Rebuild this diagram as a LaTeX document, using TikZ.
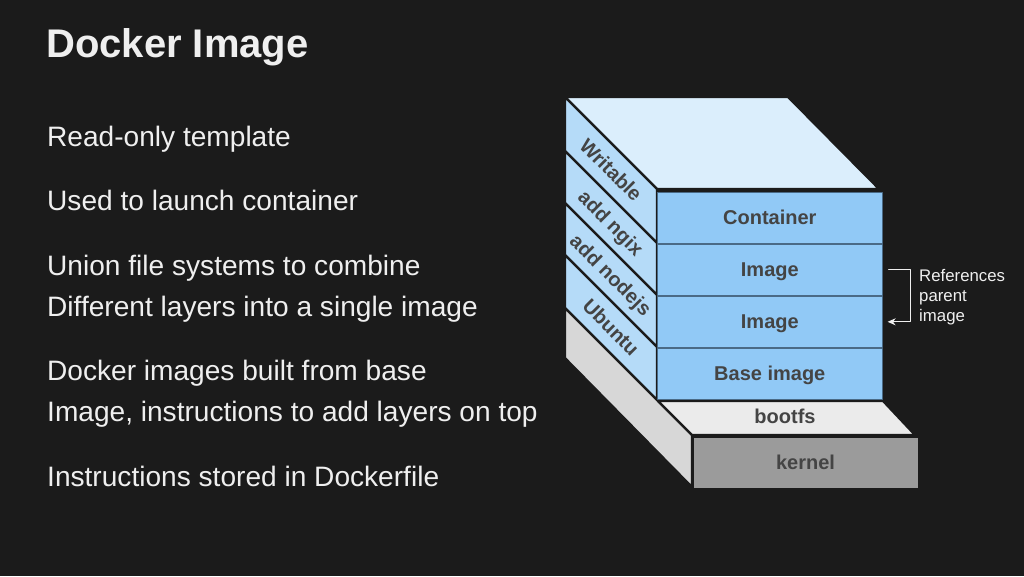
\documentclass[tikz,border=0pt]{standalone}
\usepackage{fontspec}
\setmainfont{Liberation Sans}
\usetikzlibrary{arrows.meta}
\definecolor{bgdark}{HTML}{1B1B1B}
\definecolor{txtwhite}{HTML}{EFEFEF}
\definecolor{labelgray}{HTML}{444444}
\definecolor{topblue}{HTML}{DBEEFC}
\definecolor{sideblue}{HTML}{B5DBF8}
\definecolor{frontblue}{HTML}{91C9F6}
\definecolor{edgeblue}{HTML}{4A6A86}
\definecolor{sidegray}{HTML}{D7D7D7}
\definecolor{bootgray}{HTML}{EBEBEB}
\definecolor{kernelgray}{HTML}{9B9B9B}
\begin{document}
\begin{tikzpicture}[line join=round,line cap=round,x=1pt,y=-1pt]
	\tikzset{
		slide/.style={text=txtwhite,inner sep=0pt,anchor=base west,font=\fontsize{28.1}{34}\selectfont},
		layer/.style={fill=frontblue,draw=edgeblue,line width=.6pt,minimum width=225pt,minimum height=51pt,inner sep=0pt,anchor=north west,text=labelgray,font=\bfseries\fontsize{20}{24}\selectfont,text height=14pt,text depth=0pt},
		side/.style={text=labelgray,font=\bfseries\fontsize{20}{24}\selectfont,rotate=-45,inner sep=0pt,text height=14pt,text depth=0pt},
		gap/.style={draw=bgdark,line width=2.2pt}
	}
	\fill[bgdark] (0,0) rectangle (1024,576);
	\node[slide,font=\bfseries\fontsize{40}{48}\selectfont] (title) at (46,57.5) {Docker Image};
	\foreach \y/\txt [count=\i] in {146/Read-only template,210/Used to launch container,275/Union file systems to combine,316.7/Different layers into a single image,380.7/Docker images built from base,421.7/{Image, instructions to add layers on top},486.7/Instructions stored in Dockerfile}{
		\node[slide] (line\i) at (47,\y) {\txt};
	}
	\draw[gap,fill=topblue] (565,97) -- (788,97) -- (879,189) -- (657,189) -- cycle;
	\foreach \y/\h/\txt [count=\i] in {97/54/Writable,151/52/add ngix,203/52/add nodejs,255/53/Ubuntu}{
		\draw[gap,fill=sideblue] (565,\y) -- (657,\y+92) -- (657,\y+\h+92) -- (565,\y+\h) -- cycle;
		\node[side] (side\i) at (611,\y+\h/2+46) {\txt};
	}
	\draw[gap,fill=sidegray] (565,308) -- (692,435) -- (692,487) -- (565,358) -- cycle;
	\draw[gap,fill=bootgray] (658,401) -- (883,401) -- (915,435) -- (692,435) -- cycle;
	\node[text=labelgray,font=\bfseries\fontsize{20}{24}\selectfont,inner sep=0pt,text height=14pt,text depth=0pt] (bootfs) at (785,416) {bootfs};
	\node[fill=kernelgray,draw=bgdark,line width=1pt,minimum width=225pt,minimum height=51pt,inner sep=0pt,anchor=north west,text=labelgray,font=\bfseries\fontsize{20}{24}\selectfont,text height=14pt,text depth=0pt] (kernel) at (692.5,436.5) {kernel};
	\foreach \txt/\nm [count=\i] in {Container/cont,Image/imga,Image/imgb,Base image/base}{
		\node[layer] (\nm) at (657,{192+52*(\i-1)}) {\txt};
	}
	\draw[-{Stealth[length=8pt,width=7pt]},txtwhite,line width=1pt] ([xshift=6pt]imga.east) -- ++(22,0) |- ([xshift=5pt]imgb.east);
	\node[anchor=north west,inner sep=0pt,align=left,text=txtwhite,font=\fontsize{16.8}{20}\selectfont] (refs) at (919,269) {References\\parent\\image};
\end{tikzpicture}
\end{document}
